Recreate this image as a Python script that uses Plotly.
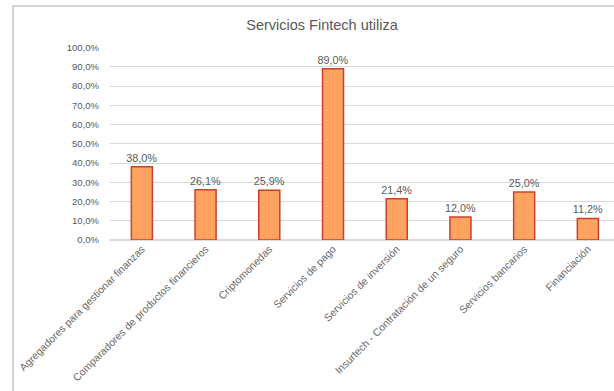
import plotly.graph_objects as go

categories = [
    "Agregadores para gestionar finanzas",
    "Comparadores de productos financieros",
    "Criptomonedas",
    "Servicios de pago",
    "Servicios de inversión",
    "Insurtech - Contratación de un seguro",
    "Servicios bancarios",
    "Financiación",
]
values = [38.0, 26.1, 25.9, 89.0, 21.4, 12.0, 25.0, 11.2]
y_ticks = list(range(0, 101, 10))


def pct(v):
    return f"{v:.1f}%".replace(".", ",")


W, H = 614, 391
plot_left, plot_right = 110, 614
plot_top, plot_bottom = 47.5, 240
grey = "#595959"

fig = go.Figure()

# Light outer frame of the chart area, drawn on a full-page helper axis pair
fig.add_trace(
    go.Scatter(
        x=[13, 13, W],
        y=[H, 6, 6],
        mode="lines",
        line=dict(color="#c8c8c8", width=1.5),
        xaxis="x2",
        yaxis="y2",
        hoverinfo="skip",
    )
)

fig.add_trace(
    go.Bar(
        x=list(range(len(categories))),
        y=values,
        width=0.33,
        marker=dict(color="#fda35f", line=dict(color="#c9412c", width=1.5)),
        text=[pct(v) for v in values],
        textposition="outside",
        constraintext="none",
        textfont=dict(size=10.8, color=grey),
        cliponaxis=False,
    )
)

fig.update_layout(
    width=W,
    height=H,
    margin=dict(l=0, r=0, t=0, b=0),
    paper_bgcolor="white",
    plot_bgcolor="rgba(0,0,0,0)",
    font=dict(family="Liberation Sans, Arial, sans-serif", color=grey),
    showlegend=False,
    title=dict(
        text="Servicios Fintech utiliza",
        xref="container",
        x=322 / W,
        xanchor="center",
        yref="container",
        y=1 - 25 / H,
        yanchor="middle",
        font=dict(size=14.5, color=grey),
    ),
    xaxis=dict(
        domain=[plot_left / W, plot_right / W],
        range=[-0.5, 7.41],
        tickmode="array",
        tickvals=list(range(len(categories))),
        ticktext=categories,
        tickangle=-45,
        tickfont=dict(size=10.5, color="#6a6a6a"),
        showgrid=False,
        showline=False,
        zeroline=False,
        ticks="",
        automargin=False,
    ),
    yaxis=dict(
        domain=[1 - plot_bottom / H, 1 - plot_top / H],
        range=[0, 100],
        tickmode="array",
        tickvals=y_ticks,
        ticktext=[pct(v) for v in y_ticks],
        tickfont=dict(size=9.5, color=grey),
        showgrid=True,
        gridcolor="#d9d9d9",
        gridwidth=1,
        zeroline=True,
        zerolinecolor="#d9d9d9",
        showline=False,
        ticks="",
        ticklabelstandoff=10,
        automargin=False,
    ),
    xaxis2=dict(domain=[0, 1], range=[0, W], visible=False, anchor="y2",
                fixedrange=True),
    yaxis2=dict(domain=[0, 1], range=[H, 0], visible=False, anchor="x2",
                fixedrange=True),
)

fig.write_html("out.html")
